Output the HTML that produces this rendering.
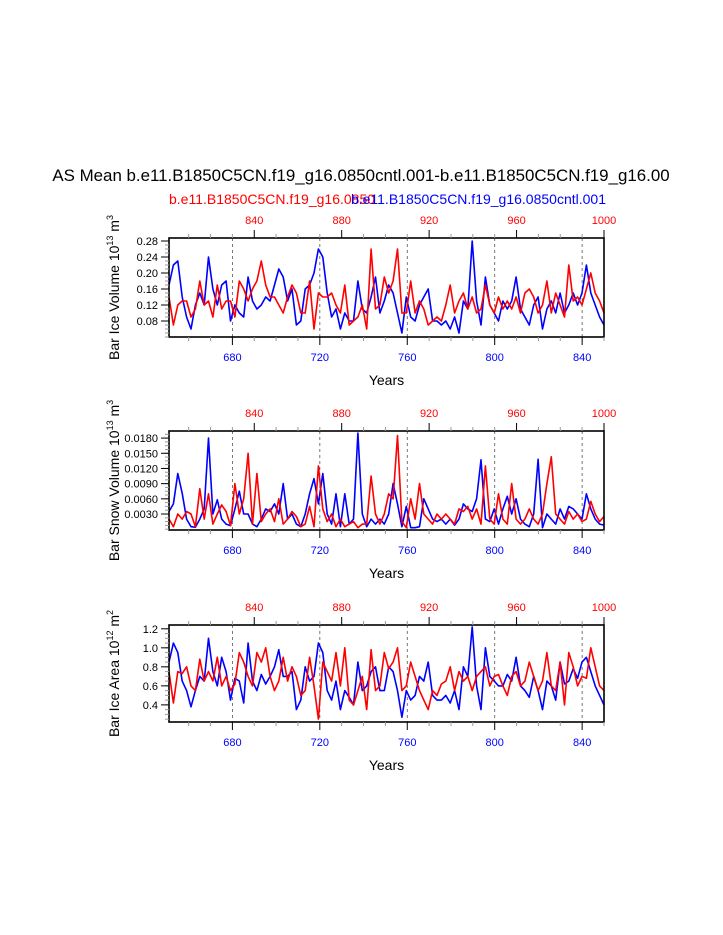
<!DOCTYPE html>
<html><head><meta charset="utf-8"><style>
body{margin:0;background:#fff;}
svg{display:block;font-family:"Liberation Sans",Arial,sans-serif;}
</style></head><body>
<svg id="chart" width="723" height="935" viewBox="0 0 723 935" xmlns="http://www.w3.org/2000/svg">
<text x="361" y="181" font-size="16.9" text-anchor="middle">AS Mean b.e11.B1850C5CN.f19_g16.0850cntl.001-b.e11.B1850C5CN.f19_g16.00</text>
<text x="169" y="204" font-size="14" fill="#ff0000">b.e11.B1850C5CN.f19_g16.0850</text>
<text x="606" y="204" font-size="14" fill="#0000ff" text-anchor="end">b.e11.B1850C5CN.f19_g16.0850cntl.001</text>
</svg>
<script>
const blueIce=[0.17,0.22,0.23,0.14,0.09,0.06,0.12,0.15,0.12,0.24,0.16,0.12,0.17,0.18,0.08,0.12,0.10,0.09,0.19,0.13,0.11,0.12,0.14,0.13,0.17,0.21,0.19,0.13,0.16,0.07,0.08,0.16,0.17,0.20,0.26,0.24,0.15,0.09,0.11,0.06,0.10,0.08,0.08,0.18,0.11,0.10,0.14,0.19,0.10,0.13,0.17,0.15,0.10,0.05,0.14,0.09,0.08,0.12,0.14,0.16,0.08,0.08,0.07,0.08,0.06,0.09,0.05,0.13,0.11,0.28,0.13,0.07,0.19,0.12,0.10,0.08,0.13,0.11,0.13,0.19,0.11,0.09,0.07,0.12,0.14,0.06,0.11,0.13,0.10,0.15,0.10,0.12,0.15,0.12,0.15,0.22,0.15,0.12,0.09,0.07];
const redIce=[0.14,0.07,0.12,0.13,0.13,0.09,0.11,0.18,0.12,0.13,0.09,0.17,0.11,0.13,0.13,0.09,0.18,0.16,0.13,0.16,0.18,0.23,0.17,0.14,0.14,0.12,0.10,0.14,0.17,0.15,0.10,0.10,0.18,0.06,0.15,0.14,0.14,0.15,0.12,0.10,0.17,0.07,0.08,0.09,0.12,0.06,0.26,0.11,0.12,0.19,0.15,0.18,0.26,0.10,0.10,0.18,0.10,0.13,0.11,0.07,0.08,0.09,0.08,0.12,0.17,0.10,0.13,0.15,0.11,0.14,0.10,0.11,0.17,0.12,0.10,0.14,0.11,0.13,0.11,0.14,0.10,0.15,0.16,0.14,0.10,0.12,0.18,0.10,0.15,0.12,0.09,0.22,0.13,0.14,0.12,0.16,0.20,0.15,0.13,0.10];
const blueSnow=[0.0035,0.005,0.011,0.0071,0.002,0.0005,0.0004,0.002,0.004,0.018,0.003,0.0058,0.002,0.001,0.0007,0.004,0.0075,0.003,0.003,0.001,0.0005,0.002,0.004,0.0035,0.005,0.003,0.009,0.002,0.003,0.001,0.0005,0.003,0.007,0.010,0.005,0.011,0.003,0.001,0.007,0.0005,0.007,0.001,0.002,0.019,0.003,0.0005,0.002,0.001,0.002,0.001,0.003,0.009,0.005,0.0005,0.0045,0.0003,0.0003,0.0005,0.006,0.004,0.002,0.0015,0.002,0.001,0.002,0.0008,0.002,0.005,0.004,0.0035,0.006,0.0137,0.002,0.0015,0.004,0.001,0.004,0.0065,0.003,0.006,0.002,0.001,0.0005,0.003,0.0138,0.0003,0.003,0.002,0.001,0.004,0.002,0.0045,0.004,0.003,0.002,0.007,0.004,0.002,0.001,0.0008];
const redSnow=[0.002,0.0005,0.003,0.002,0.0035,0.003,0.0005,0.008,0.002,0.007,0.001,0.003,0.0048,0.0035,0.0007,0.009,0.003,0.006,0.015,0.001,0.011,0.0015,0.003,0.004,0.0015,0.006,0.001,0.002,0.0035,0.0025,0.0005,0.001,0.0045,0.0005,0.0125,0.004,0.0015,0.003,0.0005,0.002,0.0005,0.001,0.0015,0.0003,0.001,0.001,0.0105,0.003,0.001,0.003,0.007,0.006,0.0185,0.0015,0.0003,0.006,0.002,0.009,0.003,0.002,0.001,0.003,0.002,0.003,0.002,0.001,0.004,0.0035,0.0045,0.002,0.004,0.001,0.0125,0.002,0.001,0.007,0.002,0.001,0.009,0.002,0.001,0.002,0.004,0.002,0.001,0.003,0.009,0.0143,0.003,0.002,0.001,0.0035,0.002,0.003,0.0015,0.002,0.0055,0.003,0.0015,0.0025];
const blueArea=[0.85,1.05,0.95,0.65,0.55,0.38,0.55,0.7,0.65,1.1,0.75,0.6,0.9,0.75,0.45,0.68,0.65,0.42,1.05,0.65,0.55,0.72,0.62,0.7,0.8,0.98,0.7,0.7,0.75,0.35,0.45,0.8,0.65,0.7,1.05,0.95,0.55,0.45,0.65,0.35,0.55,0.48,0.4,0.85,0.55,0.6,0.75,0.8,0.55,0.55,0.8,0.75,0.55,0.27,0.55,0.45,0.5,0.7,0.65,0.85,0.5,0.45,0.45,0.5,0.42,0.55,0.35,0.8,0.7,1.22,0.6,0.35,1.0,0.7,0.65,0.6,0.6,0.72,0.65,0.9,0.6,0.55,0.48,0.7,0.55,0.35,0.65,0.6,0.45,0.85,0.62,0.65,0.78,0.68,0.85,0.9,0.75,0.6,0.5,0.4];
const redArea=[0.75,0.42,0.75,0.73,0.8,0.6,0.55,0.88,0.65,0.75,0.65,0.9,0.6,0.7,0.55,0.62,0.95,0.85,0.7,0.6,0.95,0.85,1.0,0.7,0.55,0.65,0.9,0.65,0.8,0.7,0.5,0.55,0.9,0.6,0.25,0.85,0.75,0.65,0.95,0.6,1.0,0.45,0.4,0.55,0.7,0.35,0.98,0.55,0.6,0.95,0.78,0.85,1.0,0.55,0.6,0.85,0.7,0.55,0.45,0.35,0.55,0.5,0.62,0.65,0.8,0.55,0.75,0.65,0.7,0.55,0.7,0.75,0.8,0.6,0.7,0.72,0.6,0.5,0.7,0.75,0.6,0.65,0.85,0.7,0.55,0.65,0.95,0.6,0.55,0.85,0.4,0.95,0.8,0.6,0.7,0.68,1.0,0.8,0.6,0.55];
const bottomTicks=[680,720,760,800,840];
const topTicks=[840,880,920,960,1000];
const iceTicks=["0.08","0.12","0.16","0.20","0.24","0.28"];
const snowTicks=["0.0030","0.0060","0.0090","0.0120","0.0150","0.0180"];
const areaTicks=["0.4","0.6","0.8","1.0","1.2"];

const NS="http://www.w3.org/2000/svg";
const svg=document.getElementById('chart');
const L=169,R=604,Y0=651,Y1=850,T0=801;
const xB=y=>L+(y-Y0)*(R-L)/(Y1-Y0);
const xT=y=>L+(y-T0)*(R-L)/(Y1-Y0);
function mk(tag,attrs,parent){const e=document.createElementNS(NS,tag);for(const k in attrs)e.setAttribute(k,attrs[k]);(parent||svg).appendChild(e);return e;}

const panels=[
 {name:'ice-volume',top:238,bot:337,vmin:0.04,vmax:0.2875,ticks:iceTicks,minor:0.01,blue:blueIce,red:redIce,title:'Bar Ice Volume 10',sup:'13',unit:' m',usup:'3'},
 {name:'snow-volume',top:431,bot:530,vmin:-0.00016,vmax:0.0194,ticks:snowTicks,minor:0.00075,blue:blueSnow,red:redSnow,title:'Bar Snow Volume 10',sup:'13',unit:' m',usup:'3'},
 {name:'ice-area',top:625,bot:722,vmin:0.22,vmax:1.24,ticks:areaTicks,minor:0.05,blue:blueArea,red:redArea,title:'Bar Ice Area 10',sup:'12',unit:' m',usup:'2'}
];
panels.forEach(p=>{
 const g=mk('g',{});
 
 
 const yS=v=>p.bot-(v-p.vmin)*(p.bot-p.top)/(p.vmax-p.vmin);
 bottomTicks.forEach(t=>{const l=mk('line',{x1:xB(t),x2:xB(t),y1:p.top,y2:p.bot,stroke:'#555','stroke-width':0.8,'stroke-dasharray':'3,3'},g);
  
  });
 [['blue',p.blue,'#0000ff'],['red',p.red,'#ff0000']].forEach(([nm,arr,c])=>{
  const pts=arr.map((v,i)=>xB(Y0+i*(Y1-Y0)/(arr.length-1)).toFixed(1)+','+yS(v).toFixed(1)).join(' ');
  const pl=mk('polyline',{points:pts,fill:'none',stroke:c,'stroke-width':1.6,'stroke-linejoin':'round'},g);
  
  
 });
 const fr=mk('rect',{x:L,y:p.top,width:R-L,height:p.bot-p.top,fill:'none',stroke:'#000','stroke-width':1.6},g);
 
 
 for(let y=660;y<=850;y+=10){const maj=(y%40===0);mk('line',{x1:xB(y),x2:xB(y),y1:p.bot,y2:p.bot+(maj?8:4),stroke:maj?'#000':'#999','stroke-width':1},g);}
 bottomTicks.forEach(t=>{const tx=mk('text',{x:xB(t),y:p.bot+24,'font-size':11,fill:'#0000ff','text-anchor':'middle'},g);tx.textContent=t;
  
  });
 for(let y=810;y<=1000;y+=10){const maj=(y%40===0);mk('line',{x1:xT(y),x2:xT(y),y1:p.top,y2:p.top-(maj?8:4),stroke:maj?'#000':'#999','stroke-width':1},g);}
 topTicks.forEach(t=>{const tx=mk('text',{x:xT(t),y:p.top-14,'font-size':11,fill:'#ff0000','text-anchor':'middle'},g);tx.textContent=t;
  
  });
 for(let v=Math.ceil(p.vmin/p.minor)*p.minor;v<=p.vmax;v+=p.minor){mk('line',{x1:L,x2:L-4,y1:yS(v),y2:yS(v),stroke:'#999','stroke-width':1},g);}
 p.ticks.forEach(s=>{const v=parseFloat(s);mk('line',{x1:L,x2:L-8,y1:yS(v),y2:yS(v),stroke:'#000','stroke-width':1},g);
  const tx=mk('text',{x:L-11,y:yS(v)+4,'font-size':11,'text-anchor':'end'},g);tx.textContent=s;
  
  });
 const xt=mk('text',{x:(L+R)/2,y:p.bot+48,'font-size':14,'text-anchor':'middle'},g);xt.textContent='Years';
 
 
 const cy=(p.top+p.bot)/2;
 const yt=mk('text',{x:0,y:0,'font-size':14,'text-anchor':'middle',transform:`translate(119,${cy}) rotate(-90)`},g);
 
 
 const t1=mk('tspan',{},yt);t1.textContent=p.title;
 const t2=mk('tspan',{dy:-6,'font-size':9},yt);t2.textContent=p.sup;
 const t3=mk('tspan',{dy:6},yt);t3.textContent=p.unit;
 const t4=mk('tspan',{dy:-6,'font-size':9},yt);t4.textContent=p.usup;
});
</script>
</body></html>
